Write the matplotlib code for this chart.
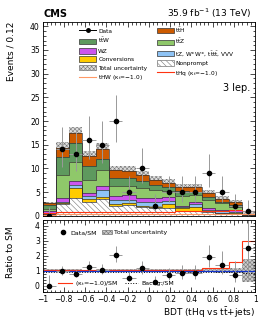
import numpy as np
import matplotlib
matplotlib.use("Agg")
import matplotlib.pyplot as plt
from matplotlib.patches import Patch
from matplotlib.lines import Line2D

plt.rcParams['font.family'] = ['DejaVu Sans']
plt.rcParams['hatch.linewidth'] = 0.4
plt.rcParams['mathtext.default'] = 'regular'

# Binning
edges = np.linspace(-1, 1, 17)
centers = 0.5 * (edges[:-1] + edges[1:])
half_w = 0.5 * (edges[1] - edges[0])

# Observed data and Poisson (Garwood) errors
data = np.array([0, 14, 13, 16, 15, 20, 5, 10, 2, 5, 5, 5, 9, 5, 2, 1])
data_lo = np.array([0, 3.70, 3.56, 3.95, 3.83, 4.43, 2.16, 3.11, 1.29, 2.16, 2.16, 2.16, 2.94, 2.16, 1.29, 0.83])
data_hi = np.array([1.84, 4.80, 4.67, 5.06, 4.93, 5.55, 3.38, 4.26, 2.64, 3.38, 3.38, 3.38, 4.11, 3.38, 2.64, 2.30])

# Background contributions per bin (stacked bottom to top)
nonprompt = np.array([0.30, 2.5, 3.7, 2.8, 3.5, 2.1, 2.3, 1.8, 1.6, 1.6, 1.0, 1.0, 0.7, 0.5, 0.4, 0.10])
conversions = np.array([0.05, 0.1, 2.1, 0.7, 0.5, 0.4, 0.4, 0.2, 0.3, 0.9, 0.6, 0.9, 0.2, 0.1, 0.1, 0.02])
tz_other = np.array([0.20, 0.4, 0.7, 0.7, 1.4, 0.8, 0.6, 0.8, 1.1, 0.7, 0.2, 0.6, 0.3, 0.3, 0.3, 0.06])
wz = np.array([0.40, 0.7, 0.9, 0.7, 0.8, 0.9, 1.1, 0.9, 0.7, 0.7, 0.3, 0.5, 0.5, 0.4, 0.4, 0.07])
ttz = np.array([0.40, 5.0, 4.0, 2.6, 3.4, 2.1, 1.9, 2.1, 1.7, 1.4, 2.1, 1.4, 1.6, 1.3, 0.7, 0.07])
ttw = np.array([1.00, 3.8, 3.9, 2.9, 2.4, 1.7, 1.7, 1.5, 1.1, 0.7, 1.1, 0.7, 0.6, 0.4, 0.4, 0.05])
tth = np.array([0.25, 1.7, 2.1, 2.3, 2.1, 1.7, 1.5, 1.4, 1.0, 1.0, 0.8, 0.9, 0.9, 0.6, 0.5, 0.03])
tot_unc = np.array([0.30, 1.3, 1.4, 0.9, 1.2, 0.8, 1.1, 0.8, 0.8, 0.8, 0.7, 0.8, 0.6, 0.5, 0.5, 0.30])

# Signal lines (kappa_t = -1)
thq = np.array([0.6, 0.8, 0.8, 0.85, 0.85, 0.85, 0.85, 0.85, 0.85, 0.85, 0.9, 0.9, 0.9, 1.0, 1.2, 0.9])
thw = np.array([0.2, 0.35, 0.35, 0.35, 0.35, 0.3, 0.3, 0.3, 0.3, 0.3, 0.3, 0.3, 0.35, 0.35, 0.35, 0.3])

# Ratio panel lines
ratio_ktm1 = np.array([1.05] * 12 + [1.15, 1.2, 1.6, 3.0])
ratio_bkg = np.array([0.93] * 12 + [0.92, 0.9, 0.88, 0.82])

components = [
    (nonprompt, 'white', 'Nonprompt'),
    (conversions, '#ffcc00', 'Conversions'),
    (tz_other, '#8ec3f5', r'tZ, W$^{\pm}$W$^{\pm}$, t$\bar{t}$t$\bar{t}$, VVV'),
    (wz, '#cc55ee', 'WZ'),
    (ttz, '#8fc86a', r't$\bar{t}$Z'),
    (ttw, '#5e995e', r't$\bar{t}$W'),
    (tth, '#cc5a00', r't$\bar{t}$H'),
]

unc_face = '#dddddd'
unc_edge = '#777777'
unc_hatch = 'xxxxxxxx'

fig = plt.figure(figsize=(2.66, 3.22), dpi=100)
ax = fig.add_axes([0.160, 0.330, 0.799, 0.603])
rax = fig.add_axes([0.160, 0.092, 0.799, 0.226])

sm = nonprompt + conversions + tz_other + wz + ttz + ttw + tth

# Total uncertainty band (drawn first, the stack covers its lower half)
ax.stairs(sm + tot_unc, edges, baseline=sm - tot_unc, fill=True, facecolor=unc_face,
          edgecolor=unc_edge, hatch=unc_hatch, linewidth=0, zorder=1)

bottom = np.zeros(16)
for vals, col, lab in components:
    top = bottom + vals
    if lab == 'Nonprompt':
        ax.stairs(top, edges, baseline=bottom, fill=True, facecolor='white',
                  edgecolor='#777777', hatch='\\\\\\\\\\\\', linewidth=0, zorder=2)
    else:
        ax.stairs(top, edges, baseline=bottom, fill=True, color=col, linewidth=0, zorder=2)
    ax.stairs(top, edges, baseline=None, color='#333333', linewidth=0.5, zorder=2.5)
    bottom = top

ax.stairs(thw, edges, baseline=None, color='#ff9966', linewidth=0.8, zorder=3)
ax.stairs(thq, edges, baseline=None, color='#ff3311', linewidth=0.8, zorder=3)

ax.errorbar(centers, data, xerr=half_w, yerr=[data_lo, data_hi], fmt='o',
            color='black', ecolor='#999999', elinewidth=0.7, markersize=3, capsize=0, zorder=4)

ax.set_xlim(-1, 1)
ax.set_ylim(0, 41)
ax.set_yticks(np.arange(0, 41, 5))
ax.set_yticks(np.arange(0, 41, 1), minor=True)
ax.set_xticks(np.arange(-1, 1.01, 0.2))
ax.set_xticks(np.arange(-1, 1.01, 0.04), minor=True)
ax.tick_params(labelbottom=False)
ax.set_ylabel('Events / 0.12', fontsize=6.5, ha='right')
ax.yaxis.set_label_coords(-0.125, 1.0)

ax.text(0.976, 0.658, '3 lep.', transform=ax.transAxes, ha='right', va='center', fontsize=7)
fig.text(0.162, 0.946, 'CMS', fontsize=7, fontweight='bold', va='baseline')
fig.text(0.943, 0.946, r'35.9 fb$^{-1}$ (13 TeV)', fontsize=6.5, ha='right', va='baseline')

# Legend
def box(col, hatch=None, ec='#333333'):
    return Patch(facecolor=col, edgecolor=ec, hatch=hatch, linewidth=0.5)

h_data = Line2D([], [], color='black', marker='o', markersize=2.5, linewidth=0.7)
handles = [
    h_data, box('#5e995e'), box('#cc55ee'), box('#ffcc00'),
    box(unc_face, unc_hatch, unc_edge), Line2D([], [], color='#ff9966', linewidth=0.8),
    box('#cc5a00'), box('#8fc86a'), box('#8ec3f5'),
    box('white', '\\\\\\\\\\\\', '#777777'), Line2D([], [], color='#ff3311', linewidth=0.8),
]
labels = [
    'Data', r't$\bar{t}$W', 'WZ', 'Conversions', 'Total uncertainty', r'tHW ($\kappa_t$=−1.0)',
    r't$\bar{t}$H', r't$\bar{t}$Z', r'tZ, W$^{\pm}$W$^{\pm}$, t$\bar{t}$t$\bar{t}$, VVV',
    'Nonprompt', r'tHq ($\kappa_t$=−1.0)',
]
ax.legend(handles, labels, ncol=2, fontsize=4.2, frameon=False, loc='upper left',
          bbox_to_anchor=(0.16, 0.995), borderpad=0, handlelength=2.9, handleheight=1.1,
          handletextpad=0.3, labelspacing=0.45, columnspacing=1.6)

# Ratio panel
rel_unc = tot_unc / sm
rax.stairs(1 + rel_unc, edges, baseline=1 - rel_unc, fill=True, facecolor='#cccccc',
           edgecolor=unc_edge, hatch=unc_hatch, linewidth=0)
rax.axhline(1, color='#1133cc', linewidth=0.9)
rax.stairs(ratio_ktm1, edges, baseline=None, color='#ff3311', linewidth=0.8)
rax.stairs(ratio_bkg, edges, baseline=None, color='black', linewidth=0.7, linestyle=':')
ratio = data / sm
rax.errorbar(centers, ratio, xerr=half_w, yerr=[data_lo / sm, data_hi / sm], fmt='o',
             color='black', ecolor='#999999', elinewidth=0.7, markersize=3, capsize=0)

rax.set_xlim(-1, 1)
rax.set_ylim(-0.45, 4.35)
rax.set_yticks(np.arange(0, 5, 1))
rax.set_yticks(np.arange(-0.4, 4.4, 0.2), minor=True)
rax.set_xticks(np.arange(-1, 1.01, 0.2))
rax.set_xticks(np.arange(-1, 1.01, 0.04), minor=True)
rax.set_xticklabels(['−1', '−0.8', '−0.6', '−0.4', '−0.2', '0', '0.2', '0.4', '0.6', '0.8', '1'])
rax.set_ylabel('Ratio to SM', fontsize=6.5)
rax.yaxis.set_label_coords(-0.13, 0.55)
rax.set_xlabel(r'BDT (tHq vs t$\bar{t}$+jets)', fontsize=6.5, ha='right')
rax.xaxis.set_label_coords(1.0, -0.175)

leg1 = rax.legend([Line2D([], [], color='black', marker='o', markersize=3, linestyle='none'),
                   box('#cccccc', unc_hatch, unc_edge)],
                  ['Data/SM', 'Total uncertainty'], ncol=2, fontsize=4.5, frameon=False,
                  loc='upper left', bbox_to_anchor=(0.06, 0.90), borderpad=0,
                  handlelength=1.6, handletextpad=0.3, columnspacing=0.8)
rax.add_artist(leg1)
rax.legend([Line2D([], [], color='#ff3311', linewidth=0.8),
            Line2D([], [], color='black', linewidth=0.7, linestyle=':')],
           [r'($\kappa_t$=−1.0)/SM', 'Backg./SM'], ncol=2, fontsize=4.5, frameon=False,
           loc='lower left', bbox_to_anchor=(0.06, 0.02), borderpad=0,
           handlelength=2.2, handletextpad=0.4, columnspacing=1.0)

for a in (ax, rax):
    a.tick_params(which='both', direction='in', top=True, right=True, labelsize=5.5, pad=2)
    a.tick_params(which='major', length=3.5, width=0.5)
    a.tick_params(which='minor', length=1.8, width=0.5)
    for s in a.spines.values():
        s.set_linewidth(0.6)

fig.savefig('out.png', dpi=100)
